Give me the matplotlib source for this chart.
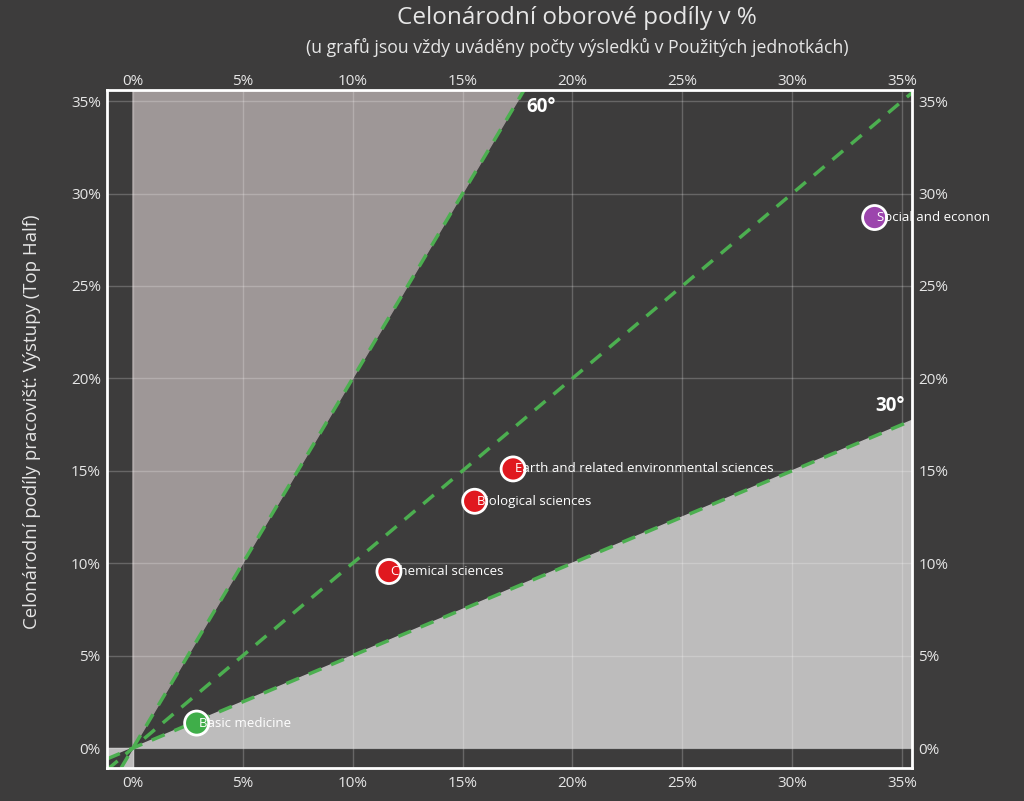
import numpy as np
import matplotlib.pyplot as plt
from matplotlib.ticker import FuncFormatter

plt.rcParams['font.family'] = ['Open Sans', 'DejaVu Sans']

# data (percent)
obory = ['Basic medicine', 'Chemical sciences', 'Biological sciences',
         'Earth and related environmental sciences', 'Social and econon']
podil_x = [2.9, 11.65, 15.55, 17.3, 33.75]
podil_y = [1.35, 9.55, 13.35, 15.1, 28.7]
barvy = ['#3fae49', '#e0181f', '#e0181f', '#e0181f', '#9c45ad']
ticks = [0, 5, 10, 15, 20, 25, 30, 35]

bg = '#3d3c3c'
txt = '#e6e6e6'
xmin, xmax = -1.18, 35.45
ymin, ymax = -1.08, 35.6

fig = plt.figure(figsize=(10.24, 8.01), dpi=100, facecolor=bg)
ax = fig.add_axes([107 / 1024, 33 / 801, 805 / 1024, 678 / 801])
ax.set_facecolor(bg)
ax.set_xlim(xmin, xmax)
ax.set_ylim(ymin, ymax)

# shaded regions
ax.fill([0, ymax / 2, 0], [0, ymax, ymax], color='#9e9797', zorder=0)
ax.fill([0, xmax, xmax], [0, xmax / 2, 0], color='#bdbcbc', zorder=0)
ax.fill([xmin, 0, 0, xmin], [ymin, ymin, 0, 0], color='#bdbcbc', zorder=0)
ax.fill([0, xmin, xmin, ymin / 2], [0, xmin / 2, ymin, ymin], color=bg, zorder=0)

ax.grid(True, color='white', alpha=0.22, linewidth=1, zorder=1)
ax.set_axisbelow(True)

# reference lines
dash = dict(color='#4caf50', linewidth=2.5, dashes=(4, 3), zorder=2)
ax.plot([xmin, xmax], [xmin, xmax], **dash)
ax.plot([ymin / 2, ymax / 2], [ymin, ymax], **dash)
ax.plot([xmin, xmax], [xmin / 2, xmax / 2], **dash)

ax.text(17.9, 34.7, '60°', color='white', fontsize=13.5, fontweight='bold',
        va='center', ha='left', zorder=5)
ax.text(33.8, 18.5, '30°', color='white', fontsize=13.5, fontweight='bold',
        va='center', ha='left', zorder=5)

ax.scatter(podil_x, podil_y, s=300, c=barvy, edgecolors='white',
           linewidths=2, zorder=4)
for nazev, x, y in zip(obory, podil_x, podil_y):
    ax.text(x + 0.1, y, nazev, color='white', fontsize=9.5, va='center',
            ha='left', zorder=5, clip_on=False)

pct = FuncFormatter(lambda v, p: f'{v:.0f}%')
ax.set_xticks(ticks)
ax.set_yticks(ticks)
ax.xaxis.set_major_formatter(pct)
ax.yaxis.set_major_formatter(pct)
ax.tick_params(axis='both', length=0, colors=txt, labelsize=11,
               labelright=True)
ax.tick_params(axis='x', pad=6)
ax.tick_params(axis='y', pad=4.5)

top = ax.secondary_xaxis('top')
top.set_xticks(ticks)
top.xaxis.set_major_formatter(pct)
top.tick_params(length=0, colors=txt, labelsize=11, pad=1)
top.spines['top'].set_visible(False)

for s in ax.spines.values():
    s.set_color('white')
    s.set_linewidth(2)

fig.text(577 / 1024, 1 - 18 / 801, 'Celonárodní oborové podíly v %',
         color=txt, fontsize=17.5, ha='center', va='center')
fig.text(577 / 1024, 1 - 47 / 801,
         '(u grafů jsou vždy uváděny počty výsledků v Použitých jednotkách)',
         color=txt, fontsize=12.7, ha='center', va='center')
fig.text(32 / 1024, 1 - 422 / 801,
         'Celonárodní podíly pracovišť: Výstupy (Top Half)',
         color=txt, fontsize=13.4, rotation=90, ha='center', va='center')

fig.savefig('out.png', dpi=100, facecolor=bg)
